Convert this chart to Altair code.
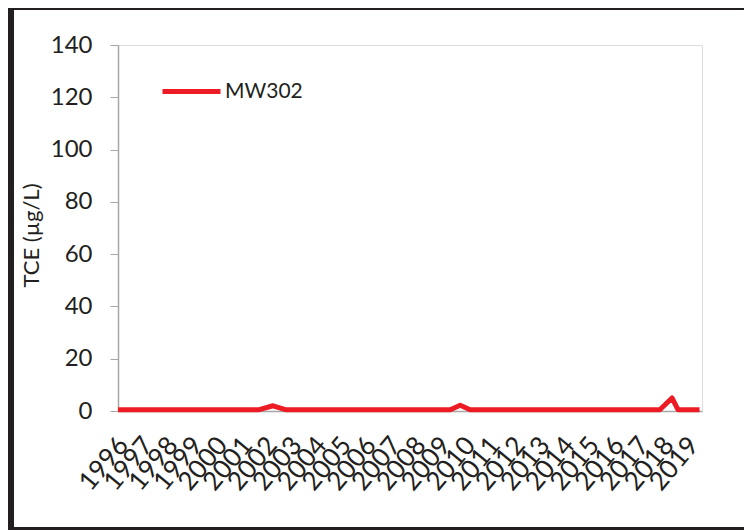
import altair as alt
import pandas as pd

# Sample points (fractional year, TCE in µg/L)
years = [1996.0, 2001.7, 2002.25, 2002.75, 2009.4, 2009.8, 2010.2, 2017.85, 2018.34, 2018.58, 2019.45]
tce = [0.5, 0.5, 2.0, 0.5, 0.5, 2.2, 0.5, 0.5, 5.0, 0.5, 0.5]
series = ["MW302"] * len(years)
tick_years = list(range(1996, 2020))
y_ticks = [0, 20, 40, 60, 80, 100, 120, 140]

df = pd.DataFrame({"year": years, "tce": tce, "well": series})

FONT = "Lato"
TXT = "#231F20"
GRAY = "#A6A6A6"
FRAME = "#231F20"

line = alt.Chart(df).mark_line(strokeWidth=5, strokeCap="butt", strokeJoin="round").encode(
    x=alt.X("year:Q",
            scale=alt.Scale(domain=[1996, 2019.55], nice=False, zero=False),
            axis=alt.Axis(values=tick_years, format="d", labelAngle=-50, labelAlign="right",
                          labelBaseline="top", labelPadding=21, labelOffset=-5,
                          labelFontSize=26, labelFont=FONT, labelColor=TXT,
                          ticks=False, domainColor=GRAY, domainWidth=1.5,
                          grid=False, title=None, labelOverlap=False, labelFlush=False)),
    y=alt.Y("tce:Q",
            scale=alt.Scale(domain=[0, 140], nice=False),
            axis=alt.Axis(values=y_ticks, labelFontSize=24, labelFont=FONT, labelColor=TXT,
                          tickSize=8, tickColor=GRAY, domainColor=GRAY, domainWidth=1.5,
                          labelPadding=18, grid=False,
                          title="TCE (µg/L)", titleFont=FONT, titleFontSize=22,
                          titleFontWeight="normal", titleColor=TXT, titlePadding=7,
                          titleY=190)),
    color=alt.Color("well:N", scale=alt.Scale(range=["#ED1C24"]),
                    legend=alt.Legend(orient="none", legendX=42, legendY=15, title=None,
                                      symbolType="stroke", symbolSize=3364, symbolStrokeWidth=5,
                                      labelFont=FONT, labelFontSize=21, labelColor=TXT,
                                      labelOffset=2, padding=0)),
)

edge_df = pd.DataFrame({"k": [0]})
top_edge = alt.Chart(edge_df).mark_rule(stroke=FRAME, strokeWidth=6).encode(
    x=alt.value(-110), x2=alt.value(700), y=alt.value(-38)
)
left_edge = alt.Chart(edge_df).mark_rule(stroke=FRAME, strokeWidth=6).encode(
    x=alt.value(-107), y=alt.value(-41), y2=alt.value(490)
)
bottom_edge = alt.Chart(edge_df).mark_rule(stroke=FRAME, strokeWidth=6).encode(
    x=alt.value(-110), x2=alt.value(700), y=alt.value(485)
)

chart = alt.layer(line, top_edge, left_edge, bottom_edge).properties(
    width=584, height=366,
    autosize=alt.AutoSizeParams(type="none"),
    padding={"left": 110, "top": 37, "right": 42, "bottom": 119},
).configure_view(stroke=None).configure(background="white")

chart.save("out.html", embed_options={"renderer": "svg", "actions": False})
